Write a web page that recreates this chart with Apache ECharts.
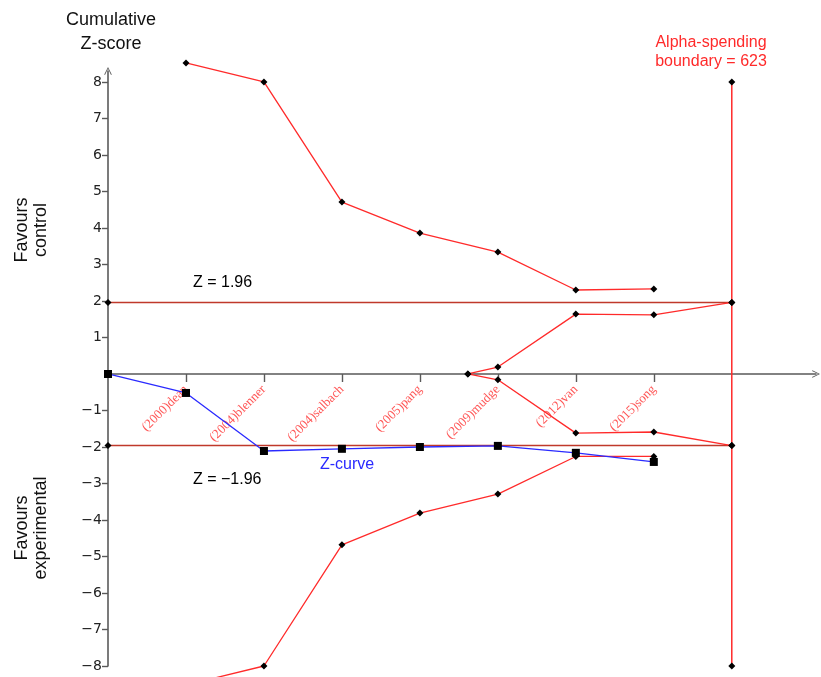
<!DOCTYPE html>
<html>
<head>
<meta charset="utf-8">
<style>
  html, body { margin: 0; padding: 0; background: #fff; }
  #chart { width: 821px; height: 677px; }
</style>
<script src="https://cdn.jsdelivr.net/npm/echarts@6/dist/echarts.min.js"></script>
</head>
<body>
<div id="chart"></div>
<script>
// Trial sequential analysis: cumulative Z-curve against monitoring boundaries
const studies = ['(2000)dean', '(2004)blenner', '(2004)salbach', '(2005)pang', '(2009)mudge', '(2012)van', '(2015)song'];
const studyPos = [1, 2, 3, 4, 5, 6, 7];
const studyLabelBase = [0, 0, 0, 0, 0, 0, 0];

// Cumulative Z-score after each study (starts at the origin)
const zCurvePos = [0, 1, 2, 3, 4, 5, 6, 7];
const zCurveValues = [0, -0.52, -2.11, -2.05, -2.0, -1.97, -2.16, -2.41];

// Alpha-spending monitoring boundaries
const upperBoundary = [8.52, 8.0, 4.71, 3.86, 3.34, 2.30, 2.33];
const lowerBoundary = [-8.52, -8.0, -4.68, -3.81, -3.29, -2.26, -2.26];

// Inner wedge boundaries, closing at the required information size
const innerPos = [4.615, 5, 6, 7, 8];
const innerUpper = [0, 0.19, 1.64, 1.62, 1.96];
const innerLower = [0, -0.16, -1.62, -1.59, -1.96];

// Conventional significance thresholds and required information size marker
const zThreshold = 1.96;
const thresholdSpan = [0, 8];
const risPos = 8;
const risSpan = [-8, 8];
const yTicks = [-8, -7, -6, -5, -4, -3, -2, -1, 1, 2, 3, 4, 5, 6, 7, 8];

const pair = (xs, ys) => xs.map((x, i) => [x, ys[i]]);

const RED = '#ff2a2a';
const DARKRED = '#c0392b';
const BLUE = '#2a2aff';
const AXIS = '#5a5a5a';
const SANS = '"Liberation Sans", Arial, sans-serif';
const chevron = 'path://M0,10 L5,0 L10,10 L9,10.6 L5,2.2 L1,10.6 Z';

const diamond = { symbol: 'diamond', symbolSize: 7, itemStyle: { color: '#000' } };

function boundarySeries(data, color, width) {
  return Object.assign({
    type: 'line', data: data, clip: false, silent: true, animation: false,
    lineStyle: { color: color, width: width || 1.3 }
  }, diamond);
}

const chart = echarts.init(document.getElementById('chart'), null, { renderer: 'canvas' });

chart.setOption({
  backgroundColor: '#fff',
  animation: false,
  grid: { left: 108, right: 5, top: 71, bottom: 11, outerBoundsMode: 'none', containLabel: false },
  xAxis: {
    type: 'value', min: 0, max: 9.08,
    splitLine: { show: false },
    axisLine: { show: true, onZero: true, lineStyle: { color: AXIS, width: 1.6 },
      symbol: ['none', chevron], symbolSize: [14, 8] },
    axisTick: { show: true, customValues: studyPos, length: 8, inside: false,
      lineStyle: { color: AXIS, width: 1.4 } },
    axisLabel: { show: false }
  },
  yAxis: {
    type: 'value', min: -8, max: 8.3,
    splitLine: { show: false },
    axisLine: { show: true, onZero: false, lineStyle: { color: AXIS, width: 1.6 },
      symbol: ['none', chevron], symbolSize: [14, 8] },
    axisTick: { show: true, customValues: yTicks, length: 6, lineStyle: { color: AXIS, width: 1.4 } },
    axisLabel: {
      customValues: yTicks, margin: 6, color: '#222', fontFamily: 'DejaVu Sans', fontSize: 14,
      formatter: v => (v < 0 ? '\u2212' + Math.abs(v) : String(v))
    }
  },
  series: [
    boundarySeries(pair(thresholdSpan, [zThreshold, zThreshold]), DARKRED, 1.5),
    boundarySeries(pair(thresholdSpan, [-zThreshold, -zThreshold]), DARKRED, 1.5),
    boundarySeries(pair([risPos, risPos], risSpan), RED, 1.5),
    boundarySeries(pair(studyPos, upperBoundary), RED),
    boundarySeries(pair(studyPos, lowerBoundary), RED),
    boundarySeries(pair(innerPos, innerUpper), RED),
    boundarySeries(pair(innerPos, innerLower), RED),
    {
      type: 'line', data: pair(zCurvePos, zCurveValues), clip: false, silent: true,
      symbol: 'rect', symbolSize: 8,
      itemStyle: { color: '#000' },
      lineStyle: { color: BLUE, width: 1.3 }
    },
    {
      // Study names hung diagonally under the x-axis ticks
      type: 'scatter', data: pair(studyPos, studyLabelBase), silent: true,
      symbolSize: 1, itemStyle: { color: 'transparent' },
      label: {
        show: true, position: 'bottom', distance: 13, rotate: 45,
        align: 'right', verticalAlign: 'middle',
        color: RED, fontFamily: 'Liberation Serif', fontSize: 13,
        formatter: p => studies[p.dataIndex]
      }
    }
  ],
  graphic: [
    { type: 'text', x: 111, y: 32,
      style: { text: 'Cumulative\nZ-score', font: '18px ' + SANS,
        fill: '#111', align: 'center', verticalAlign: 'middle', lineHeight: 24 } },
    { type: 'text', x: 32, y: 230, rotation: Math.PI / 2,
      style: { text: 'Favours\ncontrol', font: '18px ' + SANS,
        fill: '#111', align: 'center', verticalAlign: 'middle', lineHeight: 19 } },
    { type: 'text', x: 32, y: 528, rotation: Math.PI / 2,
      style: { text: 'Favours\nexperimental', font: '18px ' + SANS,
        fill: '#111', align: 'center', verticalAlign: 'middle', lineHeight: 19 } },
    { type: 'text', x: 711, y: 52,
      style: { text: 'Alpha-spending\nboundary = 623', font: '16px ' + SANS,
        fill: RED, align: 'center', verticalAlign: 'middle', lineHeight: 19 } },
    { type: 'text', x: 193, y: 283,
      style: { text: 'Z = 1.96', font: '16px ' + SANS,
        fill: '#000', align: 'left', verticalAlign: 'middle' } },
    { type: 'text', x: 193, y: 480,
      style: { text: 'Z = \u22121.96', font: '16px ' + SANS,
        fill: '#000', align: 'left', verticalAlign: 'middle' } },
    { type: 'text', x: 320, y: 465,
      style: { text: 'Z-curve', font: '16px ' + SANS,
        fill: BLUE, align: 'left', verticalAlign: 'middle' } }
  ]
});
</script>
</body>
</html>
